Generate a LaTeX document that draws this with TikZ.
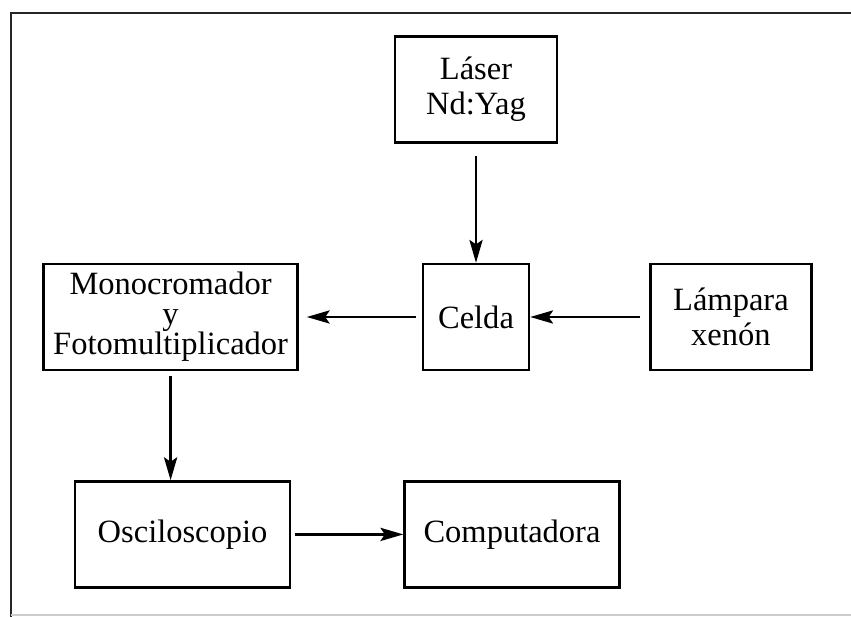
\documentclass[tikz,border=0pt]{standalone}
\usepackage{fontspec}
\setmainfont{Liberation Serif}
\usetikzlibrary{arrows.meta,positioning}

\begin{document}
\begin{tikzpicture}[
    x=0.02cm, y=-0.02cm,
    font=\fontsize{18.5}{20}\selectfont,
    blockNode/.style={
        rectangle, draw=black, line width=1.4pt, align=center,
        minimum height=2.12cm, inner sep=2pt
    },
    flowArrow/.style={
        -{Stealth[length=13pt, width=7.5pt, inset=2.5pt]}, line width=1.3pt, draw=black
    },
    frameLine/.style={line width=1.4pt, draw=black!85}
]

% Page frame
\useasboundingbox (0,0) rectangle (851,617);
\draw[frameLine] (11,617) -- (11,13) -- (851,13);
\draw[line width=0.6pt, draw=black!20] (11,615) -- (851,615);

% Sample cell and light sources
\node[blockNode, minimum width=2.12cm] (celda) at (476,317) {Celda};
\node[blockNode, minimum width=3.24cm, above=2.38cm of celda] (laser) {Láser\\Nd:Yag};
\node[blockNode, minimum width=3.22cm, right=2.38cm of celda] (lampara) {Lámpara\\xenón};

% Detection chain
\node[blockNode, minimum width=5.08cm, left=2.46cm of celda, font=\fontsize{18.5}{17}\selectfont] (mono) {Monocromador\\y\\Fotomultiplicador};
\node[blockNode, minimum width=4.30cm, below=2.18cm of mono, xshift=0.24cm] (osc) {Osciloscopio};
\node[blockNode, minimum width=4.30cm, right=2.24cm of osc] (comp) {Computadora};

% Flows
\draw[flowArrow, shorten <=0.24cm] (laser) -- (celda);
\draw[flowArrow, shorten <=0.18cm] (lampara) -- (celda);
\draw[flowArrow, shorten <=0.12cm, shorten >=0.16cm] (celda) -- (mono);
\draw[flowArrow, shorten <=0.1cm] (mono.south) -- (mono.south |- osc.north);
\draw[flowArrow, shorten <=0.08cm] (osc) -- (comp);

\end{tikzpicture}
\end{document}
